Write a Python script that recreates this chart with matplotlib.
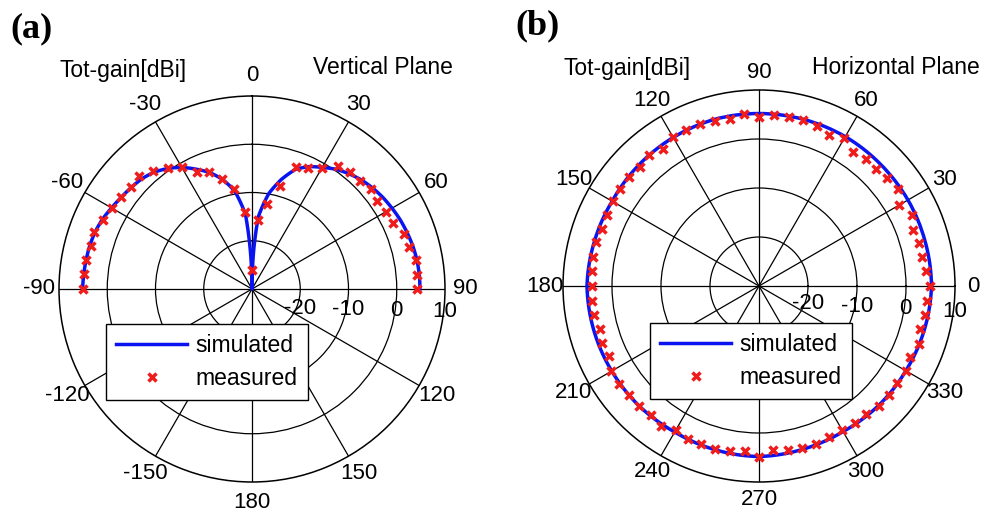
import numpy as np
import matplotlib
matplotlib.use("Agg")
import matplotlib.pyplot as plt
from matplotlib.lines import Line2D
from matplotlib.transforms import offset_copy

plt.rcParams['font.family'] = ['Liberation Sans', 'DejaVu Sans']

# ---------------- data ----------------
# (a) vertical plane, angle in degrees (0 = zenith), gain in dBi
vert_angles = list(range(-90, 95, 5))
vert_measured = [5.1, 5.0, 5.0, 4.6, 4.8, 4.0, 3.5, 3.1, 2.8, 3.2,
                 1.8, 0.5, -0.9, -3.2, -4.2, -6.3, -9.0, -14.0, -26.0,
                 -15.7, -12.2, -7.8, -3.1, -2.3, -1.1, 1.0, 1.7, 1.8,
                 2.2, 1.65, 2.0, 2.35, 3.6, 3.75, 4.5, 4.4, 4.3]

vert_sim_angles = [-90, -85, -80, -75, -70, -65, -60, -55, -50, -45,
                   -40, -35, -30, -25, -20, -15, -10, -5, -2.5, 0,
                   2.5, 5, 10, 15, 20, 25, 30, 35, 40, 45,
                   50, 55, 60, 65, 70, 75, 80, 85, 90]
vert_simulated = [5.1, 5.0, 4.9, 4.8, 4.6, 4.2, 3.6, 3.1, 2.7, 2.3,
                  1.6, 0.5, -0.9, -2.6, -4.3, -6.5, -9.4, -14.5, -22.0, -30.0,
                  -22.0, -15.0, -9.9, -6.5, -3.6, -2.0, -0.9, 0.3, 1.2, 2.0,
                  2.6, 3.1, 3.5, 3.9, 4.2, 4.5, 4.7, 4.8, 4.8]

# (b) horizontal plane, azimuth in degrees, gain in dBi
horz_angles = list(range(0, 360, 5))
horz_measured = [4.9, 4.2, 3.8, 3.75, 3.5, 4.4, 3.1, 4.6, 4.2, 3.9,
                 3.9, 3.5, 4.8, 3.9, 4.75, 5.0, 5.0, 5.0, 4.4,
                 5.2, 4.6, 4.9, 5.1, 5.2, 5.0, 4.2, 5.0, 4.4, 4.7,
                 4.55, 4.5, 4.3, 4.1, 4.5, 4.4, 4.3, 4.0,
                 4.3, 4.2, 3.6, 4.1, 3.7, 4.8, 4.8, 4.7, 4.6,
                 4.4, 4.9, 4.0, 4.4, 4.4, 4.5, 4.1, 3.75, 4.8,
                 3.6, 3.95, 4.2, 4.3, 4.0, 3.95, 4.2, 4.0, 4.5,
                 4.7, 4.4, 4.55, 4.1, 4.8, 4.1, 4.4, 4.35]

horz_sim_angles = list(range(0, 375, 15))
horz_simulated = [5.2, 5.1, 5.1, 5.1, 5.2, 5.2, 5.2, 5.2, 5.0, 4.8,
                  4.6, 4.8, 5.1, 4.9, 4.7, 4.6, 4.4, 4.6, 4.8, 4.5,
                  4.3, 4.5, 4.6, 4.9, 5.2]

r_min, r_max = -30, 10
ring_values = [-20, -10, 0]
ring_labels = ['-20', '-10', '0', '10']
theta_ticks = list(range(0, 360, 30))
vert_theta_labels = ['0', '30', '60', '90', '120', '150', '180',
                     '-150', '-120', '-90', '-60', '-30']
horz_theta_labels = [str(t) for t in theta_ticks]

# ---------------- style ----------------
FS_TICK = 16
FS_TEXT = 16.5
BLUE = '#0a14f0'
RED = '#f01c1c'

W, H = 985, 517
fig = plt.figure(figsize=(W / 100, H / 100), dpi=100)


def make_axes(cx, cy, rad):
    return fig.add_axes([(cx - rad) / W, (H - cy - rad) / H,
                         2 * rad / W, 2 * rad / H], projection='polar')


def smooth_polar_line(line, steps=24):
    # let the polar transform draw each segment as a curve in (theta, r)
    line.get_path()
    line._path._interpolation_steps = steps


def style_axes(ax, labels, label_r, ring_theta, ring_dy_pt):
    ax.set_rlim(r_min, r_max)
    ax.set_thetagrids(theta_ticks, labels=[''] * len(theta_ticks))
    ax.set_rgrids(ring_values, labels=[''] * len(ring_values))
    ax.grid(True, color='black', linewidth=0.9)
    ax.spines['polar'].set_linewidth(1.1)
    ax.spines['polar'].set_color('black')
    for t, lab in zip(theta_ticks, labels):
        ax.text(np.deg2rad(t), label_r, lab, ha='center', va='center',
                fontsize=FS_TICK, clip_on=False)
    trans = offset_copy(ax.transData, fig=fig, x=0, y=-ring_dy_pt,
                        units='points')
    for rv, lab in zip(ring_values + [r_max], ring_labels):
        ax.text(np.deg2rad(ring_theta), rv, lab, transform=trans,
                ha='center', va='center', fontsize=FS_TICK, clip_on=False)


def add_legend(ax, x_px, y_px):
    handles = [Line2D([], [], color=BLUE, lw=2.5),
               Line2D([], [], color=RED, ls='none', marker='x', ms=6,
                      mew=2.5)]
    leg = ax.legend(handles, ['simulated', 'measured'], loc='upper left',
                    bbox_to_anchor=(x_px / W, 1 - y_px / H),
                    bbox_transform=fig.transFigure, frameon=True,
                    fancybox=False, edgecolor='black', framealpha=1,
                    fontsize=FS_TEXT, borderpad=0.45, borderaxespad=0,
                    handlelength=3.1, handletextpad=0.35, labelspacing=0.42)
    leg.get_frame().set_linewidth(1.0)
    leg.set_zorder(10)


# ---------------- (a) vertical plane ----------------
axa = make_axes(252, 289, 193)
axa.set_theta_zero_location('N')
axa.set_theta_direction(-1)
line_a, = axa.plot(np.deg2rad(vert_sim_angles), vert_simulated, color=BLUE,
                   lw=2.5, zorder=3)
smooth_polar_line(line_a)
axa.plot(np.deg2rad(vert_angles), vert_measured, ls='none', marker='x',
         ms=6, mew=2.5, color=RED, zorder=4)
style_axes(axa, vert_theta_labels, 14.15, 91, 13.5)
add_legend(axa, 106, 324)

# ---------------- (b) horizontal plane ----------------
axb = make_axes(759, 286, 196)
line_b, = axb.plot(np.deg2rad(horz_sim_angles), horz_simulated, color=BLUE,
                   lw=2.5, zorder=3)
smooth_polar_line(line_b)
axb.plot(np.deg2rad(horz_angles), horz_measured, ls='none', marker='x',
         ms=6, mew=2.5, color=RED, zorder=4)
style_axes(axb, horz_theta_labels, 13.67, 357, 10.8)
add_legend(axb, 650, 323)

# ---------------- captions ----------------
fig.text(123 / W, 1 - 70 / H, 'Tot-gain[dBi]', ha='center', va='center',
         fontsize=FS_TEXT)
fig.text(383 / W, 1 - 68 / H, 'Vertical Plane', ha='center', va='center',
         fontsize=FS_TEXT)
fig.text(627 / W, 1 - 69 / H, 'Tot-gain[dBi]', ha='center', va='center',
         fontsize=FS_TEXT)
fig.text(896 / W, 1 - 68 / H, 'Horizontal Plane', ha='center', va='center',
         fontsize=FS_TEXT)
fig.text(10 / W, 1 - 29 / H, '(a)', ha='left', va='center', fontsize=26,
         fontweight='bold', family='Liberation Serif')
fig.text(515 / W, 1 - 26 / H, '(b)', ha='left', va='center', fontsize=26,
         fontweight='bold', family='Liberation Serif')

fig.savefig('out.png', dpi=100)
